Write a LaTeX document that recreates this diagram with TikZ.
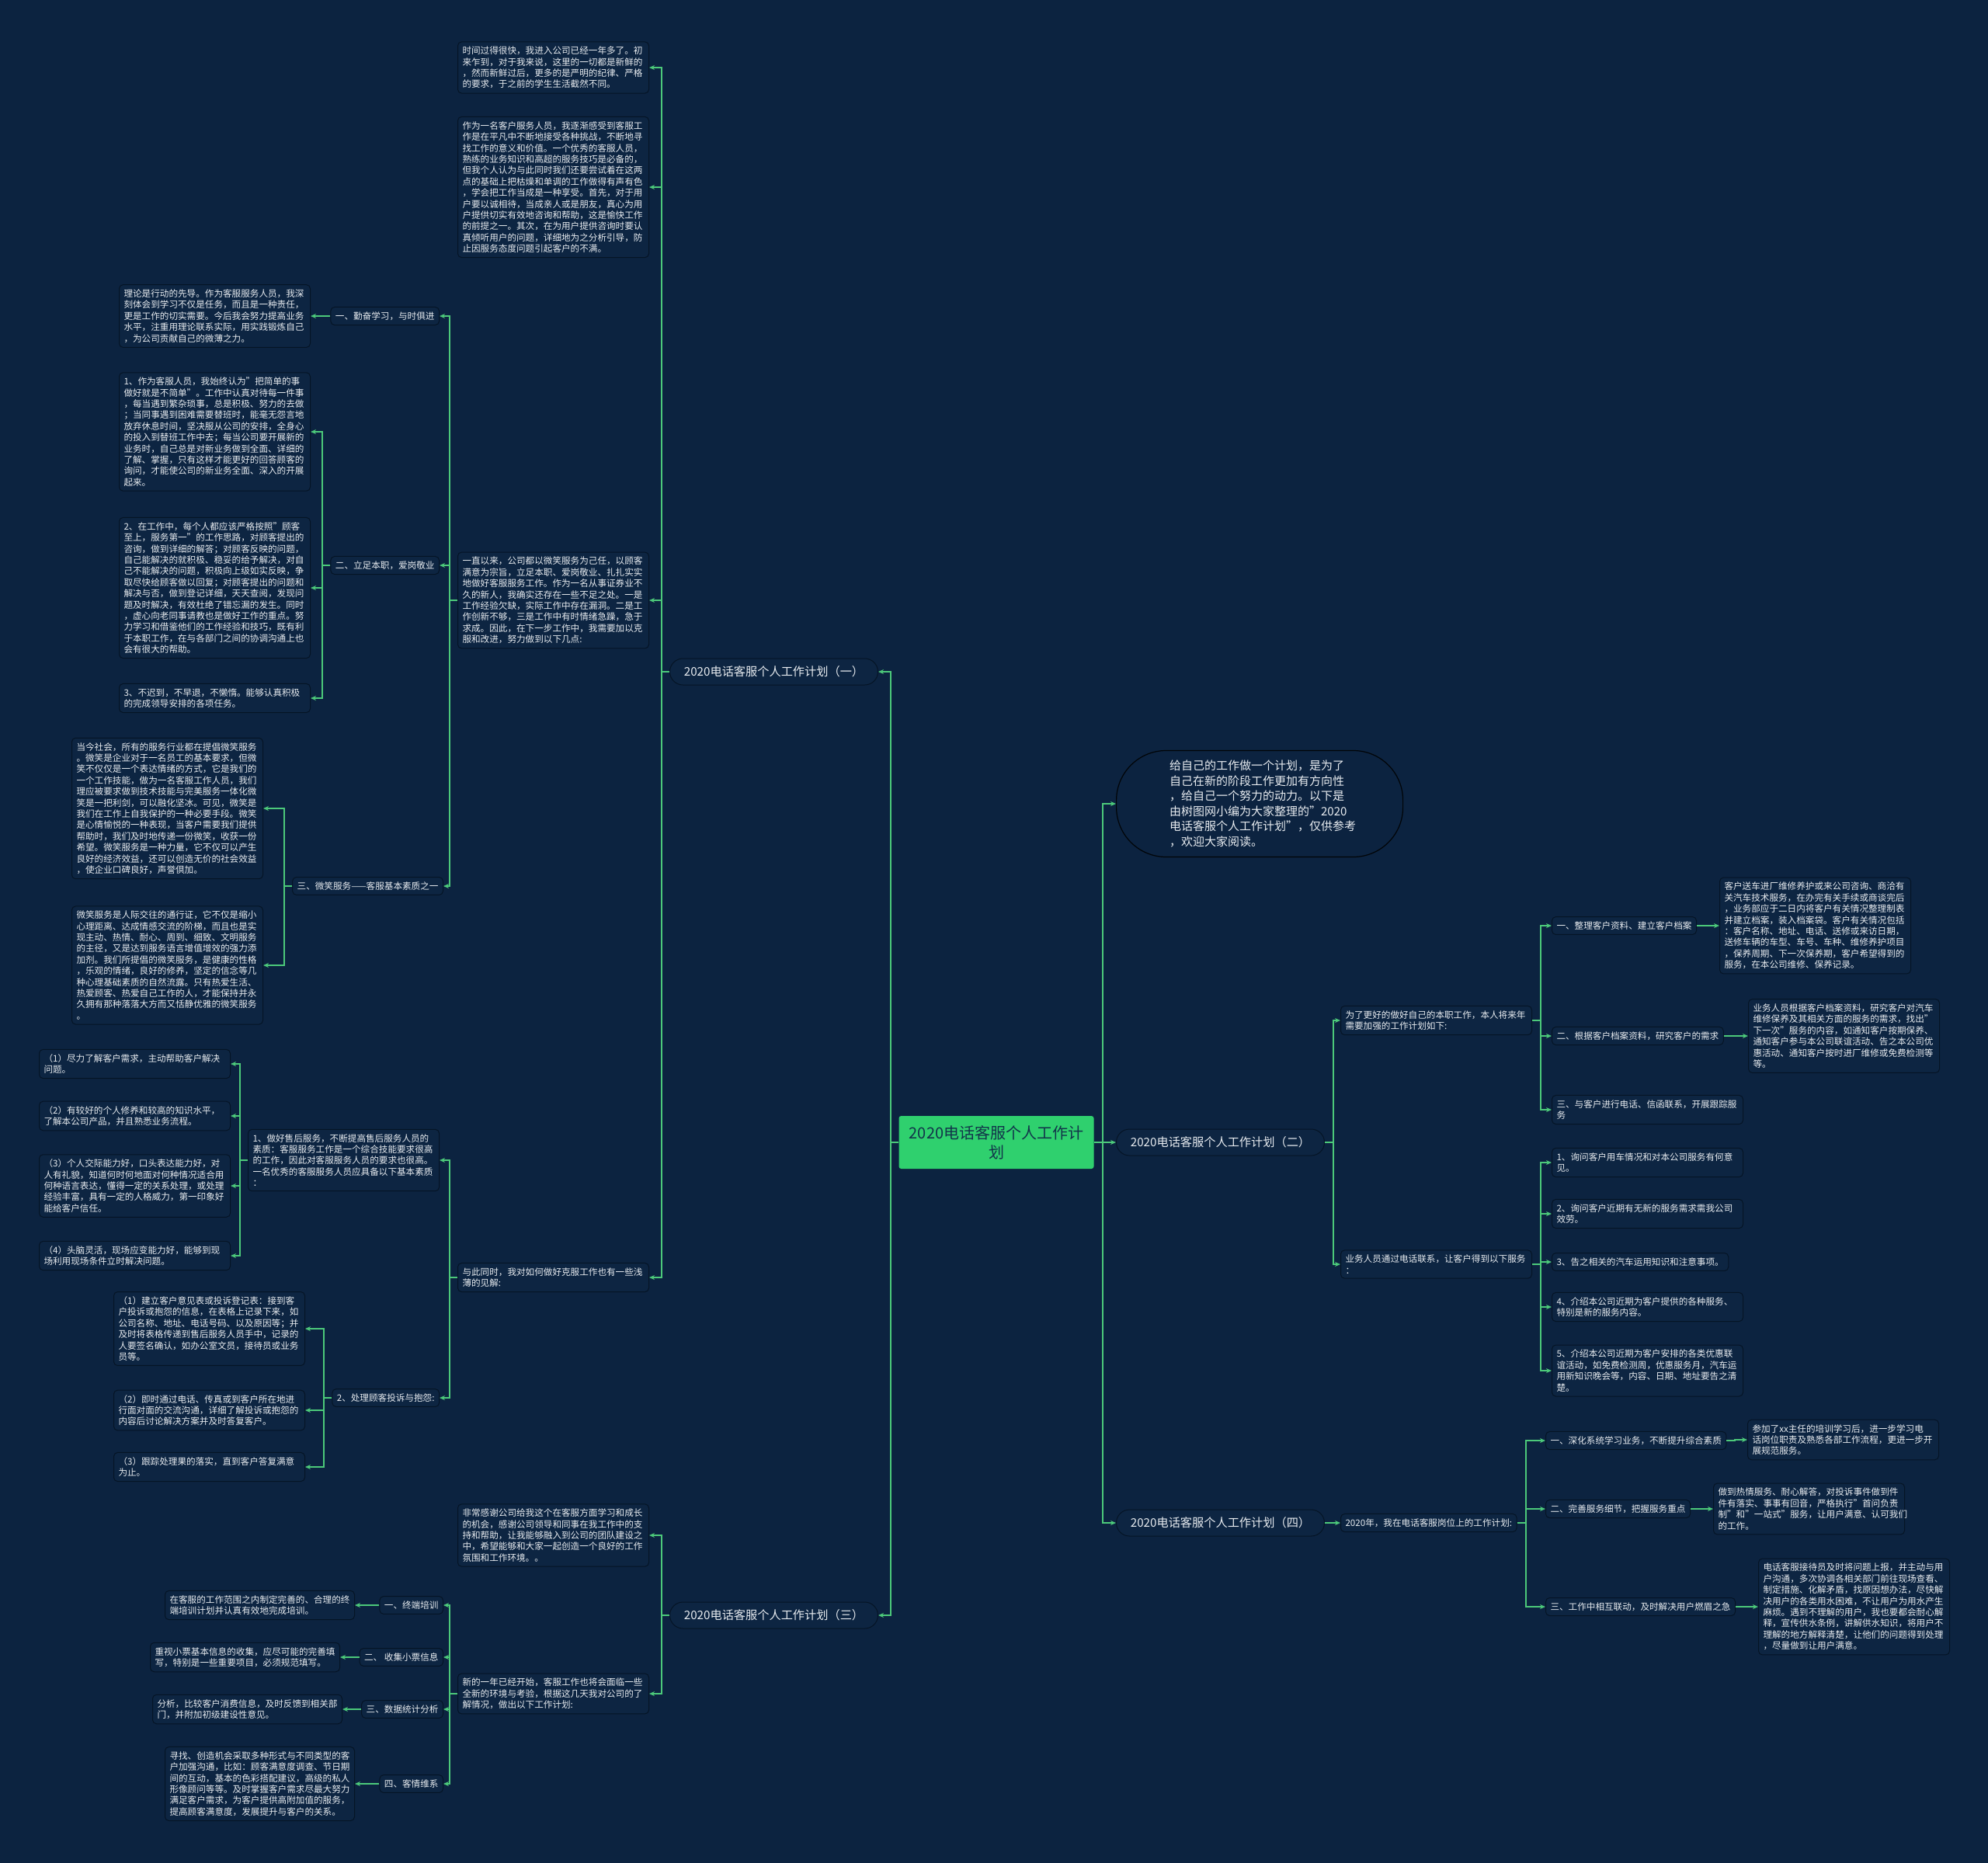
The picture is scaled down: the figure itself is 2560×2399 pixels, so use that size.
\documentclass[tikz,border=0pt]{standalone}
\usepackage{fontspec}
\setmainfont{Noto Sans CJK SC}
\usetikzlibrary{arrows.meta}
\definecolor{bg}{HTML}{0C2340}
\definecolor{boxfill}{HTML}{0D2542}
\definecolor{boxline}{HTML}{051425}
\definecolor{lineg}{HTML}{4CC97A}
\definecolor{txt}{HTML}{E8ECF0}
\definecolor{rootfill}{HTML}{2FD06E}
\definecolor{roottxt}{HTML}{12344A}
\newcommand\linkL[2]{\draw[conn] (#1.west) -- ++(-10,0) |- (#2.east);}
\newcommand\linkR[2]{\draw[conn] (#1.east) -- ++(11,0) |- (#2.west);}
\begin{document}
\begin{tikzpicture}[x=1pt,y=-1pt,
  base/.style={draw=boxline, line width=1pt, fill=boxfill, rounded corners=5pt, text=txt,
    font=\fontsize{11.6}{14.4}\selectfont, inner xsep=6pt, inner ysep=6pt},
  para/.style={base, text width=234pt, align=left},
  lab/.style={base, align=left},
  topn/.style={base, rounded corners=17pt, minimum height=34pt, minimum width=268pt,
    font=\fontsize{15.2}{18}\selectfont, inner xsep=10pt},
  rootn/.style={fill=rootfill, draw=none, rounded corners=3pt, text=roottxt, minimum width=251pt,
    minimum height=68pt, align=center, font=\fontsize{20}{25}\selectfont},
  intron/.style={draw=black!80!boxline, line width=1.2pt, fill=bg, rounded corners=64pt, text=txt,
    minimum width=369pt, minimum height=137pt, text width=232pt, align=left,
    font=\fontsize{15}{19.5}\selectfont},
  conn/.style={draw=lineg, line width=2pt, -{Stealth[length=7pt,width=6pt]}}
]
\fill[bg] (0,0) rectangle (2560,2399);
\useasboundingbox (0,0) rectangle (2560,2399);

% root and level 1
\node[rootn] (root) at (1283,1471) {2020电话客服个人工作计\\划};
\node[topn, anchor=east] (p1) at (1131,865) {2020电话客服个人工作计划（一）};
\node[topn, anchor=east] (p3) at (1131,2080) {2020电话客服个人工作计划（三）};
\node[topn, anchor=west] (p2) at (1437,1471) {2020电话客服个人工作计划（二）};
\node[topn, anchor=west] (p4) at (1437,1961) {2020电话客服个人工作计划（四）};
\node[intron, anchor=west] (intro) at (1437,1035) {给自己的工作做一个计划，是为了\\自己在新的阶段工作更加有方向性\\，给自己一个努力的动力。以下是\\由树图网小编为大家整理的"2020\\电话客服个人工作计划"，仅供参考\\，欢迎大家阅读。};

% ---------- (一) ----------
\node[para, anchor=east] (a1) at (836,87) {时间过得很快，我进入公司已经一年多了。初\\来乍到，对于我来说，这里的一切都是新鲜的\\，然而新鲜过后，更多的是严明的纪律、严格\\的要求，于之前的学生生活截然不同。};
\node[para, anchor=east] (a2) at (836,241) {作为一名客户服务人员，我逐渐感受到客服工\\作是在平凡中不断地接受各种挑战，不断地寻\\找工作的意义和价值。一个优秀的客服人员，\\熟练的业务知识和高超的服务技巧是必备的，\\但我个人认为与此同时我们还要尝试着在这两\\点的基础上把枯燥和单调的工作做得有声有色\\，学会把工作当成是一种享受。首先，对于用\\户要以诚相待，当成亲人或是朋友，真心为用\\户提供切实有效地咨询和帮助，这是愉快工作\\的前提之一。其次，在为用户提供咨询时要认\\真倾听用户的问题，详细地为之分析引导，防\\止因服务态度问题引起客户的不满。};
\node[para, anchor=east] (a3) at (836,773) {一直以来，公司都以微笑服务为己任，以顾客\\满意为宗旨，立足本职、爱岗敬业、扎扎实实\\地做好客服服务工作。作为一名从事证券业不\\久的新人，我确实还存在一些不足之处。一是\\工作经验欠缺，实际工作中存在漏洞。二是工\\作创新不够，三是工作中有时情绪急躁，急于\\求成。因此，在下一步工作中，我需要加以克\\服和改进，努力做到以下几点:};
\node[para, anchor=east] (a4) at (836,1645) {与此同时，我对如何做好克服工作也有一些浅\\薄的见解:};

\node[lab, anchor=east] (b1) at (566,407) {一、勤奋学习，与时俱进};
\node[para, anchor=east] (b1a) at (400,407) {理论是行动的先导。作为客服服务人员，我深\\刻体会到学习不仅是任务，而且是一种责任，\\更是工作的切实需要。今后我会努力提高业务\\水平，注重用理论联系实际，用实践锻炼自己\\，为公司贡献自己的微薄之力。};
\node[lab, anchor=east] (b2) at (566,728) {二、立足本职，爱岗敬业};
\node[para, anchor=east] (b2a) at (400,556) {1、作为客服人员，我始终认为"把简单的事\\做好就是不简单"。工作中认真对待每一件事\\，每当遇到繁杂琐事，总是积极、努力的去做\\；当同事遇到困难需要替班时，能毫无怨言地\\放弃休息时间，坚决服从公司的安排，全身心\\的投入到替班工作中去；每当公司要开展新的\\业务时，自己总是对新业务做到全面、详细的\\了解、掌握，只有这样才能更好的回答顾客的\\询问，才能使公司的新业务全面、深入的开展\\起来。};
\node[para, anchor=east] (b2b) at (400,757) {2、在工作中，每个人都应该严格按照"顾客\\至上，服务第一"的工作思路，对顾客提出的\\咨询，做到详细的解答；对顾客反映的问题，\\自己能解决的就积极、稳妥的给予解决，对自\\己不能解决的问题，积极向上级如实反映，争\\取尽快给顾客做以回复；对顾客提出的问题和\\解决与否，做到登记详细，天天查阅，发现问\\题及时解决，有效杜绝了错忘漏的发生。同时\\，虚心向老同事请教也是做好工作的重点。努\\力学习和借鉴他们的工作经验和技巧，既有利\\于本职工作，在与各部门之间的协调沟通上也\\会有很大的帮助。};
\node[para, anchor=east] (b2c) at (400,899) {3、不迟到，不早退，不懒惰。能够认真积极\\的完成领导安排的各项任务。};
\node[lab, anchor=east] (b3) at (571,1141) {三、微笑服务——客服基本素质之一};
\node[para, anchor=east] (b3a) at (339,1041) {当今社会，所有的服务行业都在提倡微笑服务\\。微笑是企业对于一名员工的基本要求，但微\\笑不仅仅是一个表达情绪的方式，它是我们的\\一个工作技能，做为一名客服工作人员，我们\\理应被要求做到技术技能与完美服务一体化微\\笑是一把利剑，可以融化坚冰。可见，微笑是\\我们在工作上自我保护的一种必要手段。微笑\\是心情愉悦的一种表现，当客户需要我们提供\\帮助时，我们及时地传递一份微笑，收获一份\\希望。微笑服务是一种力量，它不仅可以产生\\良好的经济效益，还可以创造无价的社会效益\\，使企业口碑良好，声誉倶加。};
\node[para, anchor=east] (b3b) at (339,1243) {微笑服务是人际交往的通行证，它不仅是缩小\\心理距离、达成情感交流的阶梯，而且也是实\\现主动、热情、耐心、周到、细致、文明服务\\的主径，又是达到服务语言增值增效的强力添\\加剂。我们所提倡的微笑服务，是健康的性格\\，乐观的情绪，良好的修养，坚定的信念等几\\种心理基础素质的自然流露。只有热爱生活、\\热爱顾客、热爱自己工作的人，才能保持并永\\久拥有那种落落大方而又恬静优雅的微笑服务\\。};

\node[para, anchor=east] (c1) at (566,1494) {1、做好售后服务，不断提高售后服务人员的\\素质：客服服务工作是一个综合技能要求很高\\的工作，因此对客服服务人员的要求也很高。\\一名优秀的客服服务人员应具备以下基本素质\\：};
\node[para, anchor=east] (c1a) at (297,1370) {（1）尽力了解客户需求，主动帮助客户解决\\问题。};
\node[para, anchor=east] (c1b) at (297,1437) {（2）有较好的个人修养和较高的知识水平，\\了解本公司产品，并且熟悉业务流程。};
\node[para, anchor=east] (c1c) at (297,1527) {（3）个人交际能力好，口头表达能力好，对\\人有礼貌，知道何时何地面对何种情况适合用\\何种语言表达，懂得一定的关系处理，或处理\\经验丰富，具有一定的人格威力，第一印象好\\能给客户信任。};
\node[para, anchor=east] (c1d) at (297,1617) {（4）头脑灵活，现场应变能力好，能够到现\\场利用现场条件立时解决问题。};
\node[lab, anchor=east] (c2) at (566,1800) {2、处理顾客投诉与抱怨:};
\node[para, anchor=east] (c2a) at (393,1711) {（1）建立客户意见表或投诉登记表：接到客\\户投诉或抱怨的信息，在表格上记录下来，如\\公司名称、地址、电话号码、以及原因等；并\\及时将表格传递到售后服务人员手中，记录的\\人要签名确认，如办公室文员，接待员或业务\\员等。};
\node[para, anchor=east] (c2b) at (393,1816) {（2）即时通过电话、传真或到客户所在地进\\行面对面的交流沟通，详细了解投诉或抱怨的\\内容后讨论解决方案并及时答复客户。};
\node[para, anchor=east] (c2c) at (393,1889) {（3）跟踪处理果的落实，直到客户答复满意\\为止。};

% ---------- (三) ----------
\node[para, anchor=east] (d1) at (836,1977) {非常感谢公司给我这个在客服方面学习和成长\\的机会，感谢公司领导和同事在我工作中的支\\持和帮助，让我能够融入到公司的团队建设之\\中，希望能够和大家一起创造一个良好的工作\\氛围和工作环境。。};
\node[para, anchor=east] (d2) at (836,2181) {新的一年已经开始，客服工作也将会面临一些\\全新的环境与考验，根据这几天我对公司的了\\解情况，做出以下工作计划:};
\node[lab, anchor=east] (e1) at (571,2067) {一、终端培训};
\node[lab, anchor=east] (e1a) at (457,2067) {在客服的工作范围之内制定完善的、合理的终\\端培训计划并认真有效地完成培训。};
\node[lab, anchor=east] (e2) at (571,2134) {二、 收集小票信息};
\node[lab, anchor=east] (e2a) at (438,2134) {重视小票基本信息的收集，应尽可能的完善填\\写，特别是一些重要项目，必须规范填写。};
\node[lab, anchor=east] (e3) at (571,2201) {三、数据统计分析};
\node[lab, anchor=east] (e3a) at (441,2201) {分析，比较客户消费信息，及时反馈到相关部\\门，并附加初级建设性意见。};
\node[lab, anchor=east] (e4) at (571,2297) {四、客情维系};
\node[lab, anchor=east] (e4a) at (457,2297) {寻找、创造机会采取多种形式与不同类型的客\\户加强沟通，比如：顾客满意度调查、节日期\\间的互动，基本的色彩搭配建议，高级的私人\\形像顾问等等。及时掌握客户需求尽最大努力\\满足客户需求，为客户提供高附加值的服务，\\提高顾客满意度，发展提升与客户的关系。};

% ---------- (二) ----------
\node[para, anchor=west] (f1) at (1726,1314) {为了更好的做好自己的本职工作，本人将来年\\需要加强的工作计划如下:};
\node[lab, anchor=west] (g1) at (1998,1192) {一、整理客户资料、建立客户档案};
\node[para, anchor=west] (g1a) at (2214,1192) {客户送车进厂维修养护或来公司咨询、商洽有\\关汽车技术服务，在办完有关手续或商谈完后\\，业务部应于二日内将客户有关情况整理制表\\并建立档案，装入档案袋。客户有关情况包括\\：客户名称、地址、电话、送修或来访日期，\\送修车辆的车型、车号、车种、维修养护项目\\，保养周期、下一次保养期，客户希望得到的\\服务，在本公司维修、保养记录。};
\node[lab, anchor=west] (g2) at (1998,1334) {二、根据客户档案资料，研究客户的需求};
\node[para, anchor=west] (g2a) at (2251,1334) {业务人员根据客户档案资料，研究客户对汽车\\维修保养及其相关方面的服务的需求，找出"\\下一次"服务的内容，如通知客户按期保养、\\通知客户参与本公司联谊活动、告之本公司优\\惠活动、通知客户按时进厂维修或免费检测等\\等。};
\node[para, anchor=west] (g3) at (1998,1429) {三、与客户进行电话、信函联系，开展跟踪服\\务};
\node[para, anchor=west] (f2) at (1726,1628) {业务人员通过电话联系，让客户得到以下服务\\：};
\node[para, anchor=west] (h1) at (1998,1497) {1、询问客户用车情况和对本公司服务有何意\\见。};
\node[para, anchor=west] (h2) at (1998,1563) {2、询问客户近期有无新的服务需求需我公司\\效劳。};
\node[lab, anchor=west] (h3) at (1998,1625) {3、告之相关的汽车运用知识和注意事项。};
\node[para, anchor=west] (h4) at (1998,1683) {4、介绍本公司近期为客户提供的各种服务、\\特别是新的服务内容。};
\node[para, anchor=west] (h5) at (1998,1765) {5、介绍本公司近期为客户安排的各类优惠联\\谊活动，如免费检测周，优惠服务月，汽车运\\用新知识晚会等，内容、日期、地址要告之清\\楚。};

% ---------- (四) ----------
\node[lab, anchor=west] (k1) at (1726,1961) {2020年，我在电话客服岗位上的工作计划:};
\node[lab, anchor=west] (m1) at (1990,1855) {一、深化系统学习业务，不断提升综合素质};
\node[para, anchor=west] (m1a) at (2250,1854) {参加了xx主任的培训学习后，进一步学习电\\话岗位职责及熟悉各部工作流程，更进一步开\\展规范服务。};
\node[lab, anchor=west] (m2) at (1990,1943) {二、完善服务细节，把握服务重点};
\node[para, anchor=west] (m2a) at (2206,1943) {做到热情服务、耐心解答，对投诉事件做到件\\件有落实、事事有回音，严格执行"首问负责\\制"和"一站式"服务，让用户满意、认可我们\\的工作。};
\node[lab, anchor=west] (m3) at (1990,2069) {三、工作中相互联动，及时解决用户燃眉之急};
\node[para, anchor=west] (m3a) at (2264,2069) {电话客服接待员及时将问题上报，并主动与用\\户沟通，多次协调各相关部门前往现场查看、\\制定措施、化解矛盾，找原因想办法，尽快解\\决用户的各类用水困难，不让用户为用水产生\\麻烦。遇到不理解的用户，我也要都会耐心解\\释，宣传供水条例，讲解供水知识，将用户不\\理解的地方解释清楚，让他们的问题得到处理\\，尽量做到让用户满意。};

% ---------- connectors ----------
\linkL{root}{p1} \linkL{root}{p3}
\linkR{root}{intro} \linkR{root}{p2} \linkR{root}{p4}
\linkL{p1}{a1} \linkL{p1}{a2} \linkL{p1}{a3} \linkL{p1}{a4}
\linkL{a3}{b1} \linkL{a3}{b2} \linkL{a3}{b3}
\linkL{b1}{b1a}
\linkL{b2}{b2a} \linkL{b2}{b2b} \linkL{b2}{b2c}
\linkL{b3}{b3a} \linkL{b3}{b3b}
\linkL{a4}{c1} \linkL{a4}{c2}
\linkL{c1}{c1a} \linkL{c1}{c1b} \linkL{c1}{c1c} \linkL{c1}{c1d}
\linkL{c2}{c2a} \linkL{c2}{c2b} \linkL{c2}{c2c}
\linkL{p3}{d1} \linkL{p3}{d2}
\linkL{d2}{e1} \linkL{d2}{e2} \linkL{d2}{e3} \linkL{d2}{e4}
\linkL{e1}{e1a} \linkL{e2}{e2a} \linkL{e3}{e3a} \linkL{e4}{e4a}
\linkR{p2}{f1} \linkR{p2}{f2}
\linkR{f1}{g1} \linkR{f1}{g2} \linkR{f1}{g3}
\linkR{g1}{g1a} \linkR{g2}{g2a}
\linkR{f2}{h1} \linkR{f2}{h2} \linkR{f2}{h3} \linkR{f2}{h4} \linkR{f2}{h5}
\linkR{p4}{k1}
\linkR{k1}{m1} \linkR{k1}{m2} \linkR{k1}{m3}
\linkR{m1}{m1a} \linkR{m2}{m2a} \linkR{m3}{m3a}
\end{tikzpicture}
\end{document}
